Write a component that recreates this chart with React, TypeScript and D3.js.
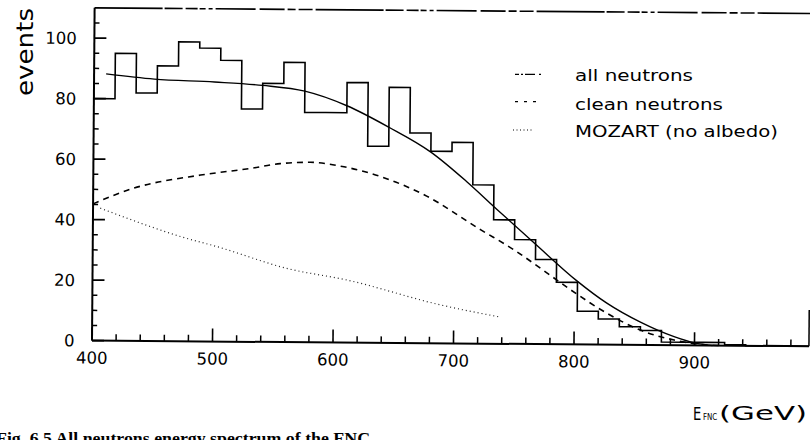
import React from 'react';
import * as d3 from 'd3';

// ---- data ----
const binStart = 400;
const binWidth = 17.5;
const histCounts = [80, 95, 82, 91, 99, 97, 93, 77, 85.5, 92.5, 76, 76, 86, 65, 84.5, 69.5, 63.5, 66.5, 52.5, 41, 34.5, 28, 20.5, 11, 8.5, 6, 4.8, 1, 1, 1, 0.3, 0, 0, 0];

const allNeutrons: [number, number][] = [
  [410, 88.2], [450, 86.6], [500, 85.8], [540, 84.8], [575, 83], [610, 78.3], [645, 71.3],
  [680, 63.2], [710, 53.5], [735, 44.5], [767.5, 33], [802, 21], [827, 13.7], [855, 7.5],
  [883, 2.8], [900, 0.8], [915, 0],
];
const cleanNeutrons: [number, number][] = [
  [400, 45.2], [433, 50.4], [489, 55], [530, 57.3], [555, 59], [580, 59.5], [608, 58.1],
  [639, 54.9], [675, 49], [722, 37.6], [750, 31], [772, 25], [797, 18], [827, 10.4],
  [855, 4.9], [883, 1.7], [905, 0.3], [920, 0],
];
const mozart: [number, number][] = [
  [406, 43.8], [448, 37.8], [473, 34.6], [503, 31.4], [562, 24.3], [611, 20.7], [689, 12.7], [739, 8.8],
];

const xMajorTicks = [400, 500, 600, 700, 800, 900];
const yMajorTicks = [0, 20, 40, 60, 80, 100];
const legendLabels = ['all neutrons', 'clean neutrons', 'MOZART (no albedo)'];
const yLabel = 'events';
const caption = 'Fig. 6.5 All neutrons energy spectrum of the FNC';

export default function App() {
  const W = 810, H = 440;
  const xEnd = binStart + binWidth * histCounts.length; // 995
  const x = d3.scaleLinear().domain([400, xEnd]).range([92, 92 + (xEnd - 400) * 1.205]);
  const y = d3.scaleLinear().domain([0, 110]).range([340.6, 340.6 - 110 * 3.025]);

  const xMinor = d3.range(420, xEnd, 20).filter((v) => v % 100 !== 0);
  const yMinor = d3.range(5, 110, 5).filter((v) => v % 20 !== 0);

  const histPts: [number, number][] = histCounts.map((c, i) => [binStart + i * binWidth, c]);
  histPts.push([xEnd, histCounts[histCounts.length - 1]]);
  const stepLine = d3.line<[number, number]>().x((d) => x(d[0])).y((d) => y(d[1])).curve(d3.curveStepAfter);
  const smooth = d3.line<[number, number]>().x((d) => x(d[0])).y((d) => y(d[1])).curve(d3.curveMonotoneX);

  const font = 'DejaVu Sans, sans-serif';
  const legendY = [74.3, 101.7, 130];
  const legendBase = [81, 110, 137];
  const legendX0 = [515, 515, 513];
  const legendX1 = [543, 538, 531.5];
  const legendDash = ['4,2,2,2,10', '3,6', '1,2.5'];
  const legendLen = [118, 148, 203];

  return (
    <svg width={W} height={H} style={{ position: 'absolute', left: 0, top: 0, background: '#fff' }}>
      <rect x={0} y={0} width={W} height={H} fill="#fff" />
      <g transform="rotate(0.45 92 340.6)">
        {/* frame */}
        <line x1={x(400)} x2={x(xEnd)} y1={y(110)} y2={y(110)} stroke="#000" strokeWidth={1.6}
          strokeDasharray="68,2,18,3,12,2,6,3,4,3,40,4,25,3,8,3,14,3" />
        <line x1={x(400)} x2={x(400)} y1={y(0)} y2={y(110)} stroke="#000" strokeWidth={2} />
        <line x1={x(400)} x2={x(xEnd)} y1={y(0)} y2={y(0)} stroke="#000" strokeWidth={2} />
        <line x1={x(xEnd)} x2={x(xEnd)} y1={y(0)} y2={y(12)} stroke="#000" strokeWidth={1.5} />

        {/* y ticks */}
        {yMajorTicks.map((v) => (
          <g key={'ym' + v}>
            <line x1={x(400)} x2={x(400) + 12} y1={y(v)} y2={y(v)} stroke="#000" strokeWidth={1.8} />
            <text x={x(400) - 17.5} y={y(v) + 6} textAnchor="end" fontFamily={font} fontSize={16.5} fill="#000">{v}</text>
          </g>
        ))}
        {yMinor.map((v) => (
          <line key={'yn' + v} x1={x(400)} x2={x(400) + 5} y1={y(v)} y2={y(v)} stroke="#000" strokeWidth={1.5} />
        ))}

        {/* x ticks */}
        {xMajorTicks.map((v) => (
          <g key={'xm' + v}>
            <line x1={x(v)} x2={x(v)} y1={y(0)} y2={y(0) - 13} stroke="#000" strokeWidth={1.6} />
            <text x={x(v)} y={y(0) + 23} textAnchor="middle" fontFamily={font} fontSize={16.5} fill="#000">{v}</text>
          </g>
        ))}
        {xMinor.map((v) => (
          <line key={'xn' + v} x1={x(v)} x2={x(v)} y1={y(0)} y2={y(0) - 6.5} stroke="#000" strokeWidth={1.5} />
        ))}

        {/* data */}
        <path d={smooth(mozart) || ''} fill="none" stroke="#222" strokeWidth={1.2} strokeDasharray="1,3" />
        <path d={smooth(cleanNeutrons) || ''} fill="none" stroke="#000" strokeWidth={1.6} strokeDasharray="6,5" />
        <path d={smooth(allNeutrons) || ''} fill="none" stroke="#000" strokeWidth={1.4} />
        <path d={stepLine(histPts) || ''} fill="none" stroke="#000" strokeWidth={1.6} />
      </g>

      {/* y label */}
      <text transform="translate(33,52) rotate(-90)" textAnchor="middle" fontFamily={font} fontSize={23}
        textLength={88} lengthAdjust="spacingAndGlyphs" fill="#000">{yLabel}</text>

      {/* legend */}
      {legendLabels.map((lab, i) => (
        <g key={lab}>
          <line x1={legendX0[i]} x2={legendX1[i]} y1={legendY[i]} y2={legendY[i]} stroke="#000" strokeWidth={1.2}
            strokeDasharray={legendDash[i]} />
          <text x={575} y={legendBase[i]} fontFamily={font} fontSize={16.5} textLength={legendLen[i]}
            lengthAdjust="spacingAndGlyphs" fill="#000">{lab}</text>
        </g>
      ))}

      {/* x axis title */}
      <text x={693} y={419.5} fontFamily={font} fontSize={17.4} textLength={8.3} lengthAdjust="spacingAndGlyphs" fill="#000">E</text>
      <text x={703} y={419.5} fontFamily={font} fontSize={8.2} textLength={14.3} lengthAdjust="spacingAndGlyphs" fill="#000">FNC</text>
      <text x={719} y={420} fontFamily={font} fontSize={20} textLength={88} lengthAdjust="spacingAndGlyphs" fill="#000">(GeV)</text>

      {/* caption (cut off at the bottom in the reference) */}
      <text x={-4} y={444} fontFamily="Liberation Serif, serif" fontWeight="bold" fontSize={16} textLength={374}
        lengthAdjust="spacingAndGlyphs" fill="#000">{caption}</text>
    </svg>
  );
}
